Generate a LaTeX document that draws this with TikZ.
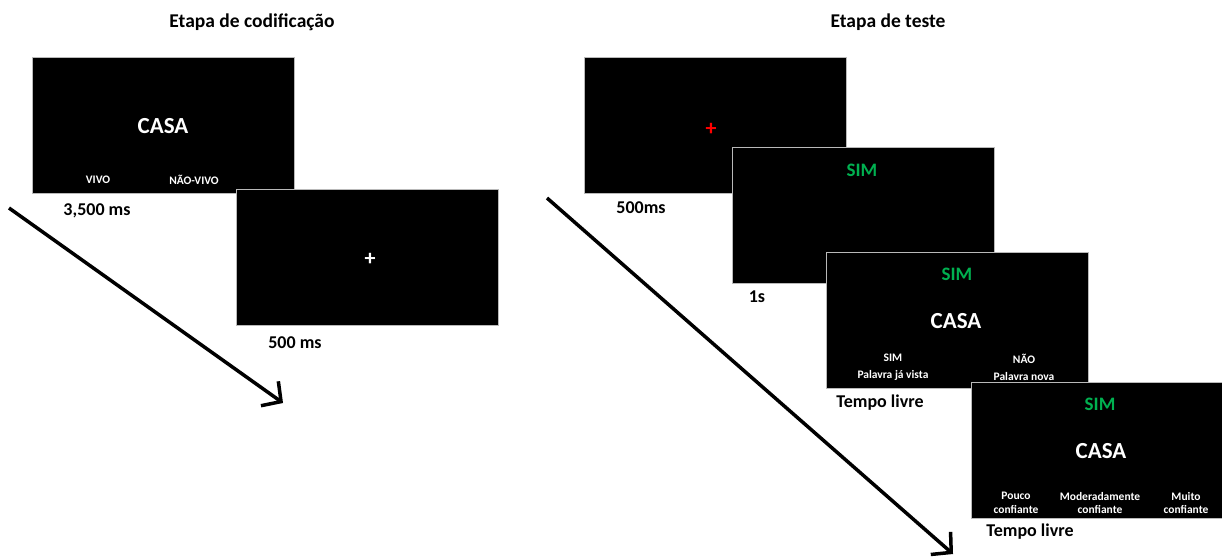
\documentclass[tikz,border=0pt]{standalone}
\usepackage{fontspec}
\setmainfont{Carlito}
\usetikzlibrary{arrows.meta}
\definecolor{simgreen}{RGB}{0,176,80}
\tikzset{
  screen/.style={draw=gray!55, line width=0.8pt, fill=black, minimum width=262pt, minimum height=136pt, inner sep=0pt, anchor=north west},
  ttl/.style={font=\bfseries\fontsize{19.5}{22}\selectfont, text=black},
  tlabel/.style={font=\bfseries\fontsize{18}{21}\selectfont, text=black},
  word/.style={font=\bfseries\fontsize{23}{26}\selectfont, text=white},
  sim/.style={font=\bfseries\fontsize{19}{22}\selectfont, text=simgreen},
  small/.style={font=\bfseries\fontsize{11.5}{13.5}\selectfont, text=white, align=center},
  smallwide/.style={font=\bfseries\fontsize{11.5}{17}\selectfont, text=white, align=center},
  timearrow/.style={line width=3.5pt, -{Straight Barb[length=14pt, width=30pt, line width=3.5pt]}}
}
\begin{document}
\begin{tikzpicture}[x=1pt, y=-1pt]
\useasboundingbox (0,0) rectangle (1222,557);
\fill[white] (0,0) rectangle (1222,557);
% titles
\node[ttl] (t1) at (252,22) {Etapa de codificação};
\node[ttl] (t2) at (888,22) {Etapa de teste};
% encoding stage
\node[screen] (b1) at (32,57) {};
\node[word] (casa1) at (163,126) {CASA};
\node[small] (vivo) at (98,180) {VIVO};
\node[small] (naovivo) at (194,180) {NÃO-VIVO};
\node[tlabel] (l1) at (97,211) {3,500 ms};
\node[screen] (b2) at (236,189) {};
\node[font=\bfseries\fontsize{22}{24}\selectfont, text=white] (fix1) at (370,259) {+};
\node[tlabel] (l2) at (295,343) {500 ms};
\coordinate (a1s) at (9,208);
\coordinate (a1e) at (283,403);
\draw[timearrow] (a1s) -- (a1e);
% test stage
\node[screen] (b3) at (584,57) {};
\node[font=\bfseries\fontsize{22}{24}\selectfont, text=red] (fix2) at (711,129) {+};
\node[tlabel] (l3) at (641,208) {500ms};
\node[screen] (b4) at (732,147) {};
\node[sim] (sim1) at (862,170) {SIM};
\node[tlabel] (l4) at (757,297) {1s};
\node[screen] (b5) at (826,252) {};
\node[sim] (sim2) at (957,274) {SIM};
\node[word] (casa2) at (956,321) {CASA};
\node[smallwide] (opt1) at (893,367) {SIM\\Palavra já vista};
\node[smallwide] (opt2) at (1024,367) {NÃO\\Palavra nova};
\node[tlabel] (l5) at (880,403) {Tempo livre};
\node[screen] (b6) at (971,382) {};
\node[sim] (sim3) at (1100,404) {SIM};
\node[word] (casa3) at (1101,451) {CASA};
\node[small] (c1) at (1016,503) {Pouco\\confiante};
\node[small] (c2) at (1100,503) {Moderadamente\\confiante};
\node[small] (c3) at (1186,503) {Muito\\confiante};
\node[tlabel] (l6) at (1030,532) {Tempo livre};
\coordinate (a2s) at (547,198);
\coordinate (a2e) at (953,554);
\draw[timearrow] (a2s) -- (a2e);
\end{tikzpicture}
\end{document}
